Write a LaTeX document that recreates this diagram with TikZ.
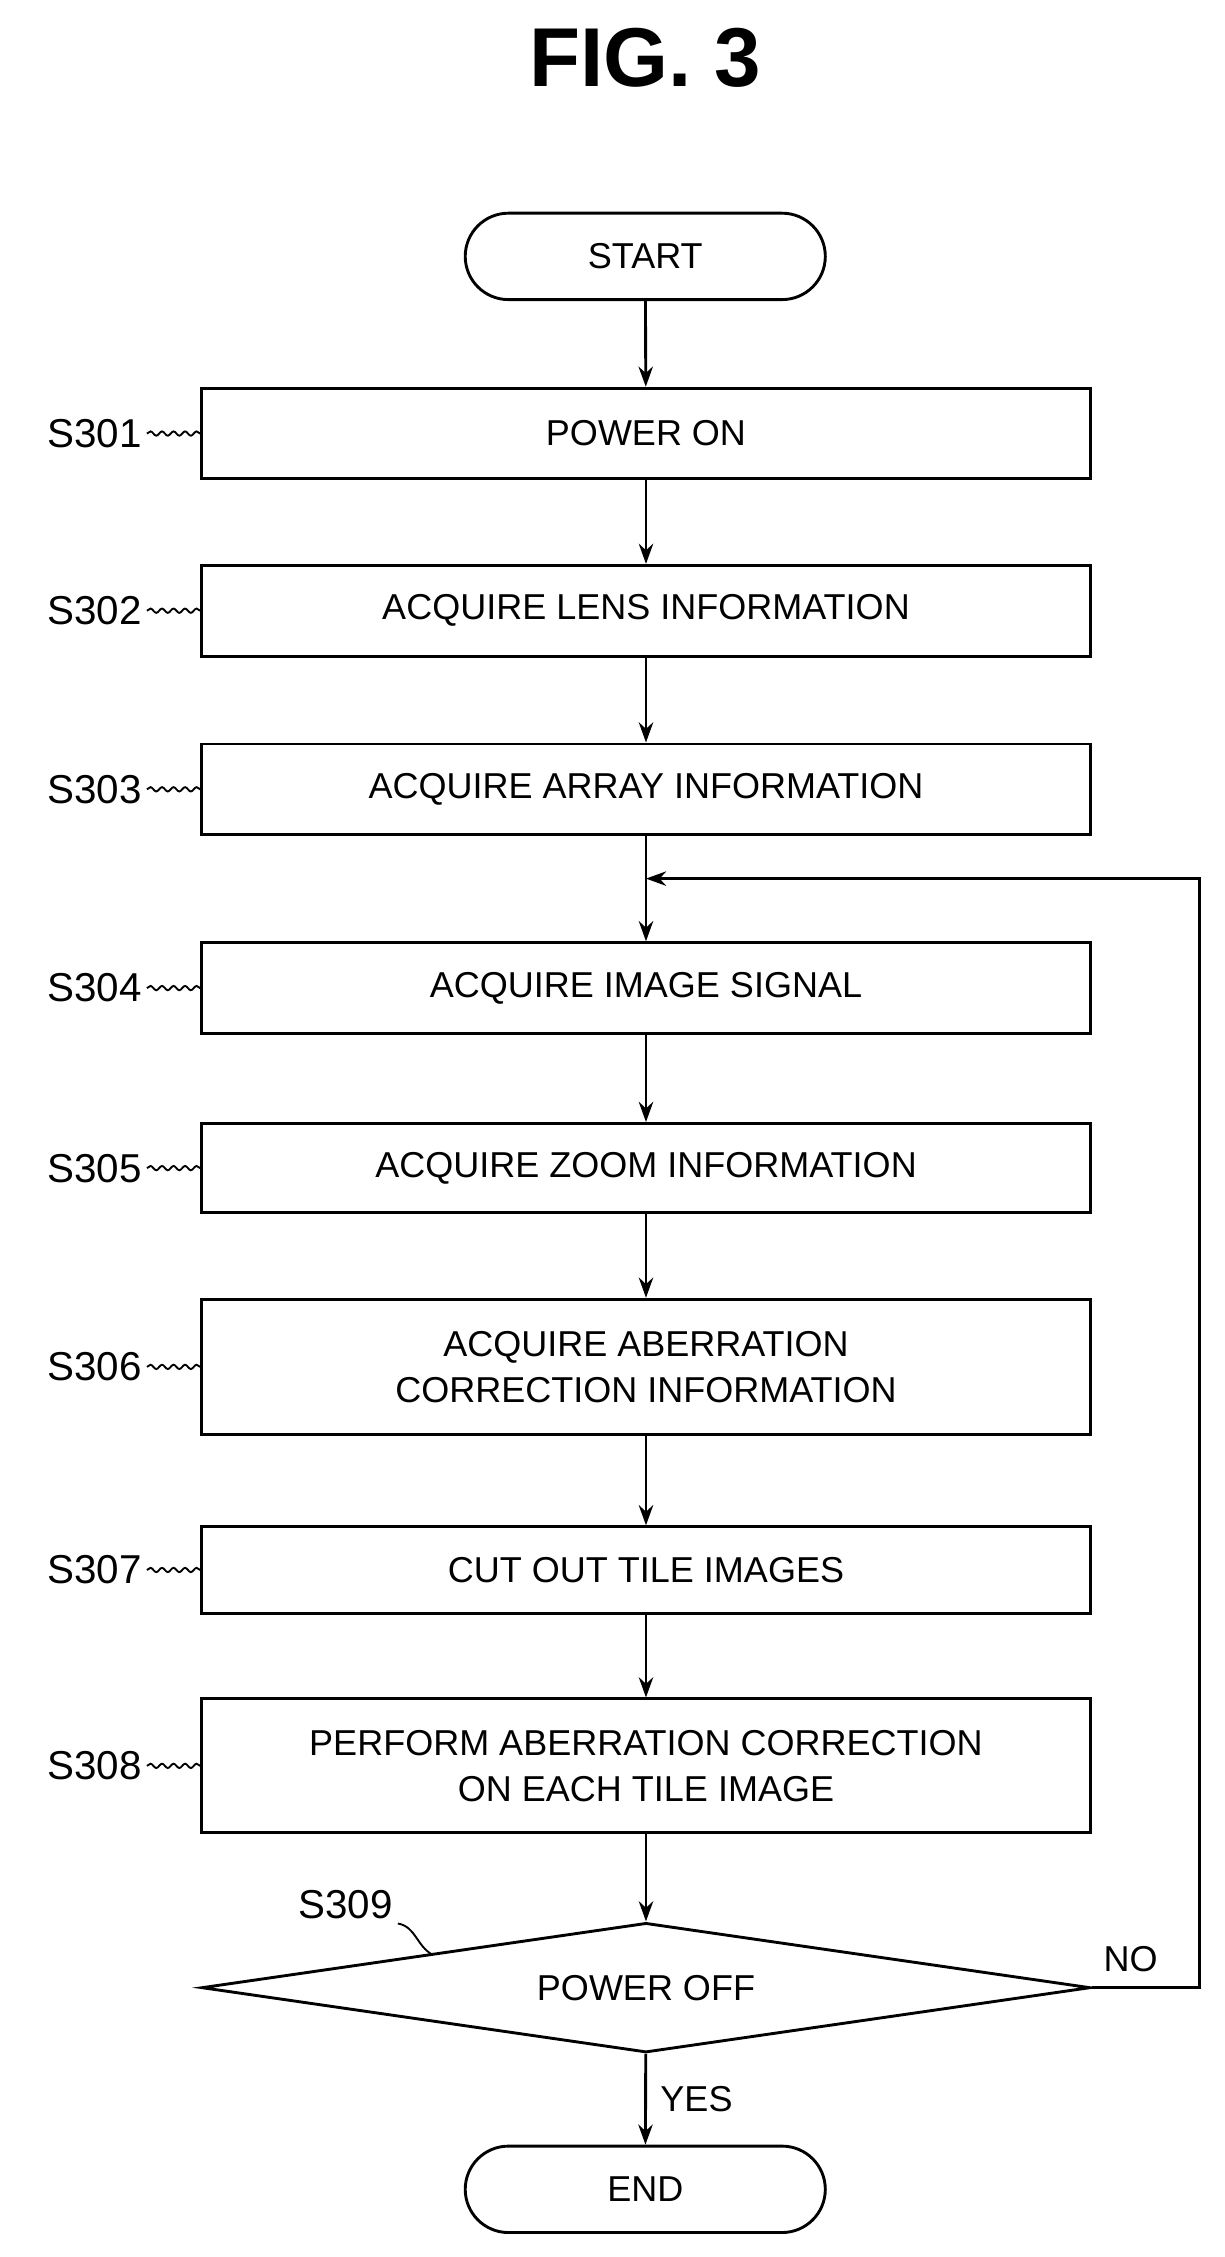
\documentclass[tikz,border=0pt]{standalone}
\usepackage{fontspec}
\setmainfont{Liberation Sans}
\usetikzlibrary{shapes.geometric,decorations.pathmorphing,arrows.meta}
\begin{document}
\begin{tikzpicture}[x=1pt,y=-1pt,
    box/.style={draw, line width=2pt, minimum width=617pt, align=center, font=\fontsize{25}{32}\selectfont},
    term/.style={draw, line width=2pt, rounded corners=30pt, minimum width=250pt, minimum height=60pt, font=\fontsize{25}{30}\selectfont},
    flow/.style={line width=2pt, -{Stealth[length=14pt,width=10pt]}},
    lbl/.style={font=\fontsize{28}{30}\selectfont, anchor=east},
    lead/.style={line width=1.3pt, decorate, decoration={snake, amplitude=1.5pt, segment length=8pt}}]
    \useasboundingbox (0,0) rectangle (850,1567);

    % Title
    \node[font=\bfseries\fontsize{58}{60}\selectfont] (title) at (448,40) {FIG. 3};

    % Terminals
    \node[term] (start) at (448,178) {START};
    \node[term] (end) at (448,1520) {END};

    % Steps
    \node[box, minimum height=63pt] (s301) at (448.5,301) {POWER ON};
    \node[box, minimum height=63pt] (s302) at (448.5,424) {ACQUIRE LENS INFORMATION};
    \node[box, minimum height=63pt] (s303) at (448.5,548) {ACQUIRE ARRAY INFORMATION};
    \node[box, minimum height=63pt] (s304) at (448.5,686) {ACQUIRE IMAGE SIGNAL};
    \node[box, minimum height=62pt] (s305) at (448.5,811) {ACQUIRE ZOOM INFORMATION};
    \node[box, minimum height=94pt] (s306) at (448.5,949) {ACQUIRE ABERRATION\\CORRECTION INFORMATION};
    \node[box, minimum height=60pt] (s307) at (448.5,1090) {CUT OUT TILE IMAGES};
    \node[box, minimum height=93pt] (s308) at (448.5,1226) {PERFORM ABERRATION CORRECTION\\ON EACH TILE IMAGE};
    \node[draw, line width=2pt, diamond, aspect=6.8, minimum width=617pt, minimum height=90pt, inner sep=0pt,
        font=\fontsize{25}{30}\selectfont] (s309) at (448.5,1380) {POWER OFF};

    % Step labels
    \foreach \n in {301,...,308} {
        \node[lbl] (l\n) at ([xshift=-37pt]s\n.west) {S\n};
        \draw[lead] (l\n.east) -- (s\n.west);
    }
    \node[font=\fontsize{28}{30}\selectfont] (l309) at (240,1322) {S309};
    \draw[line width=1.3pt] (l309.south east) to[out=-10,in=150] (300,1357);

    % Flow
    \draw[flow] (start) -- (s301);
    \draw[flow] (s301) -- (s302);
    \draw[flow] (s302) -- (s303);
    \draw[flow] (s303) -- (s304);
    \draw[flow] (s304) -- (s305);
    \draw[flow] (s305) -- (s306);
    \draw[flow] (s306) -- (s307);
    \draw[flow] (s307) -- (s308);
    \draw[flow] (s308) -- (s309);
    \draw[flow] (s309) -- node[right, xshift=6pt, font=\fontsize{25}{30}\selectfont] {YES} (end);
    \coordinate (join) at (448.5,610);
    \draw[flow] (s309.east) -- (833,1380) -- (833,610) -- (join);
    \node[font=\fontsize{25}{30}\selectfont] (no) at (785,1360) {NO};
\end{tikzpicture}
\end{document}
